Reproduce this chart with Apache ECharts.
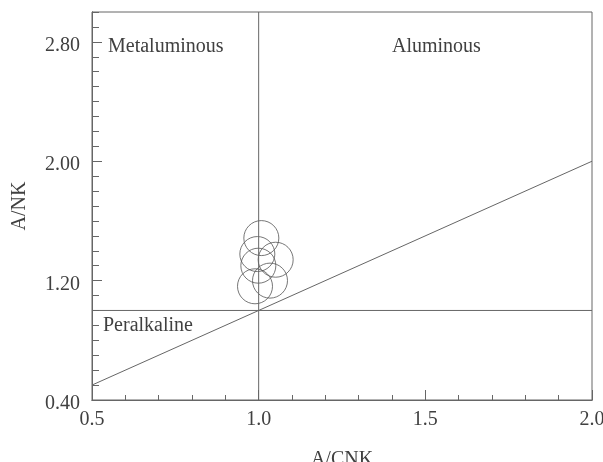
<!DOCTYPE html>
<html>
<head>
<meta charset="utf-8">
<script src="https://cdn.jsdelivr.net/npm/echarts@6/dist/echarts.min.js"></script>
<style>html,body{margin:0;padding:0;background:#fff}#c{width:603px;height:462px}</style>
</head>
<body>
<div id="c"></div>
<script>
// Data
var sampleACNK = [1.008, 0.996, 1.051, 0.999, 0.989, 1.034];
var sampleANK  = [1.485, 1.378, 1.340, 1.300, 1.162, 1.200];
var hLineX = [0.5, 2.0], hLineY = [1.0, 1.0];
var vLineX = [1.0, 1.0], vLineY = [0.4, 3.0];
var dLineX = [0.5, 2.0], dLineY = [0.5, 2.0];
var xTickLabels = [0.5, 1.0, 1.5, 2.0];
var yTickLabels = [0.4, 1.2, 2.0, 2.8];
var regionLabels = ['Metaluminous', 'Aluminous', 'Peralkaline'];

function pairs(xs, ys){ return xs.map(function(x,i){ return [x, ys[i]]; }); }

var ink = '#404040', lineC = '#666666';
var font = 'Liberation Serif';
var chart = echarts.init(document.getElementById('c'), null, {renderer:'canvas'});
var baseAxis = function(extra){
  return Object.assign({
    type:'value', axisLine:{show:true, lineStyle:{color:lineC, width:1}},
    splitLine:{show:false}, minorTick:{show:false}
  }, extra);
};
chart.setOption({
  animation:false,
  backgroundColor:'#fff',
  grid:{left:92, right:11, top:12, bottom:62, show:true, borderColor:lineC, borderWidth:1,
        containLabel:false, outerBoundsMode:'none'},
  xAxis:[
    baseAxis({min:0.5, max:2.0, interval:0.1, position:'bottom',
      axisTick:{inside:true, length:5, lineStyle:{color:lineC}},
      axisLabel:{show:false},
      name:'A/CNK', nameLocation:'middle', nameGap:50,
      nameTextStyle:{fontFamily:font, fontSize:20, color:ink}}),
    baseAxis({min:0.5, max:2.0, interval:0.5, position:'bottom',
      axisTick:{inside:true, length:10, lineStyle:{color:lineC}},
      axisLabel:{show:true, margin:10, fontFamily:font, fontSize:20, color:ink,
        formatter:function(v){ return xTickLabels.some(function(t){return Math.abs(t-v)<1e-6;}) ? v.toFixed(1) : ''; }}})
  ],
  yAxis:[
    baseAxis({min:0.4, max:3.0, interval:0.1, position:'left',
      axisTick:{inside:true, length:7, lineStyle:{color:lineC}},
      axisLabel:{show:false},
      name:'A/NK', nameLocation:'middle', nameGap:62,
      nameTextStyle:{fontFamily:font, fontSize:20, color:ink}}),
    baseAxis({min:0.4, max:3.0, interval:0.8, position:'left',
      axisTick:{inside:true, length:10, lineStyle:{color:lineC}},
      axisLabel:{show:true, margin:12, fontFamily:font, fontSize:20, color:ink, showMaxLabel:false,
        verticalAlign:'top', lineHeight:8,
        formatter:function(v){ return yTickLabels.some(function(t){return Math.abs(t-v)<1e-6;}) ? v.toFixed(2) : ''; }}})
  ],
  graphic:[
    {type:'text', left:108, top:37, style:{text:regionLabels[0], font:'20px "Liberation Serif"', fill:ink}},
    {type:'text', left:392, top:37, style:{text:regionLabels[1], font:'20px "Liberation Serif"', fill:ink}},
    {type:'text', left:103, top:316, style:{text:regionLabels[2], font:'20px "Liberation Serif"', fill:ink}}
  ],
  series:[
    {type:'line', data:pairs(hLineX,hLineY), symbol:'none', lineStyle:{color:lineC, width:1}, silent:true},
    {type:'line', data:pairs(vLineX,vLineY), symbol:'none', lineStyle:{color:lineC, width:1}, silent:true},
    {type:'line', data:pairs(dLineX,dLineY), symbol:'none', lineStyle:{color:lineC, width:1}, silent:true},
    {type:'scatter', data:pairs(sampleACNK,sampleANK), symbol:'circle', symbolSize:35,
      itemStyle:{color:'rgba(0,0,0,0)', borderColor:'#555555', borderWidth:1}}
  ]
});
</script>
</body>
</html>
